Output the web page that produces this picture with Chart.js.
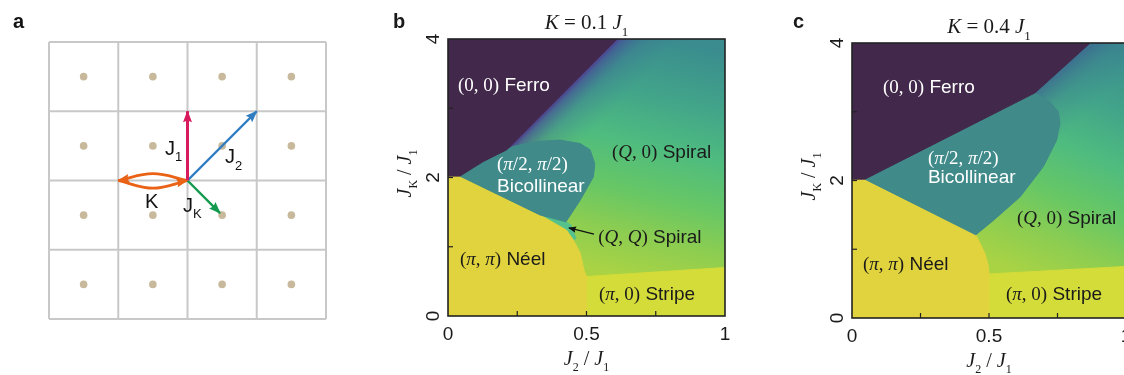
<!DOCTYPE html>
<html>
<head>
<meta charset="utf-8">
<script src="https://cdn.jsdelivr.net/npm/chart.js@4.4.1/dist/chart.umd.min.js"></script>
<style>
  html, body { margin: 0; padding: 0; background: #fff; width: 1124px; height: 375px; overflow: hidden; }
  canvas { position: absolute; top: 0; }
</style>
</head>
<body>
<canvas id="panelA" width="380" height="375" style="left:0"></canvas>
<canvas id="panelB" width="370" height="375" style="left:380px"></canvas>
<canvas id="panelC" width="350" height="375" style="left:780px"></canvas>
<script>
// ---- lattice (panel a), in cell units ----
const gridLines = [0, 1, 2, 3, 4];
const sites = [0.5, 1.5, 2.5, 3.5];
const bondJ1 = [[2, 2], [2, 3]];
const bondJ2 = [[2, 2], [3, 3]];
const bondJK = [[2, 2], [2.47, 1.53]];
const ringUpper = [[2, 2], [1.5, 2.1], [1, 2]];
const ringLower = [[1, 2], [1.5, 1.89], [2, 2]];

// ---- phase diagrams, x = J2/J1, y = JK/J1 ----
const xTicks = [0, 0.5, 1];
const yTicks = [0, 2, 4];
const xMinor = [0.25, 0.5, 0.75];
const yMinor = [1, 2, 3];
const fullArea = [[0, 0], [1, 0], [1, 4], [0, 4]];

// K = 0.1 J1
const ferroB = [[0, 4], [0.61, 4], [0.212, 2.40], [0.127, 2.23], [0.043, 2.02], [0, 2.02]];
const bicolB = [[0.043, 2.02], [0.127, 2.23], [0.212, 2.40], [0.236, 2.45], [0.32, 2.52], [0.404, 2.54],
  [0.477, 2.49], [0.513, 2.40], [0.53, 2.2], [0.525, 2.01], [0.477, 1.67], [0.426, 1.36], [0.332, 1.46]];
const qqB = [[0.332, 1.46], [0.426, 1.36], [0.445, 1.31], [0.462, 1.12], [0.452, 1.10], [0.428, 1.24]];
const neelB = [[0, 0], [0.5, 0], [0.5, 0.57], [0.491, 0.66], [0.477, 0.91], [0.452, 1.10], [0.428, 1.24],
  [0.332, 1.46], [0.043, 2.02], [0, 2.02]];
const stripeB = [[0.5, 0], [1, 0], [1, 0.70], [0.5, 0.57]];
const qqArrow = [[0.527, 1.184], [0.437, 1.271]];

// K = 0.4 J1
const ferroC = [[0, 4], [0.869, 4], [0.668, 3.275], [0.047, 2.02], [0, 2.02]];
const bicolC = [[0.047, 2.02], [0.668, 3.275], [0.723, 3.14], [0.753, 3.0], [0.759, 2.83], [0.747, 2.59],
  [0.698, 2.2], [0.613, 1.76], [0.516, 1.42], [0.452, 1.21]];
const neelC = [[0, 0], [0.5, 0], [0.5, 0.64], [0.498, 0.75], [0.485, 0.94], [0.452, 1.21], [0.047, 2.02], [0, 2.02]];
const stripeC = [[0.5, 0], [1, 0], [1, 0.75], [0.5, 0.64]];

const SERIF = '"Liberation Serif", "Times New Roman", serif';
const SANS = '"Liberation Sans", Arial, Helvetica, sans-serif';

const spiralStops = [[0, '#3a8c8e'], [0.25, '#42a589'], [0.45, '#4fbc7f'], [0.65, '#67c765'], [0.82, '#8ccd51'], [1, '#aad344']];

function fontFor(style, size) {
  if (style === 'serif') return `${size}px ${SERIF}`;
  if (style === 'iserif') return `italic ${size}px ${SERIF}`;
  if (style === 'sans') return `${size}px ${SANS}`;
  if (style === 'sub') return `${Math.round(size * 0.62)}px ${SERIF}`;
  if (style === 'subsans') return `${Math.round(size * 0.65)}px ${SANS}`;
  if (style === 'bold') return `bold ${size}px ${SANS}`;
  return `${size}px ${SANS}`;
}

function drawParts(ctx, x, y, parts, size, align) {
  let w = 0;
  parts.forEach(([t, s]) => { ctx.font = fontFor(s, size); w += ctx.measureText(t).width; });
  let cx = align === 'center' ? x - w / 2 : x;
  ctx.textAlign = 'left';
  ctx.textBaseline = 'alphabetic';
  parts.forEach(([t, s]) => {
    ctx.font = fontFor(s, size);
    ctx.fillText(t, cx, y + (s.startsWith('sub') ? size * 0.32 : 0));
    cx += ctx.measureText(t).width;
  });
}

const pts = arr => arr.map(([x, y]) => ({ x, y }));
const ring = arr => pts(arr.concat([arr[0]]));

function linGrad(chart, p0, p1, stops) {
  const { ctx, scales: { x, y } } = chart;
  const g = ctx.createLinearGradient(x.getPixelForValue(p0[0]), y.getPixelForValue(p0[1]),
    x.getPixelForValue(p1[0]), y.getPixelForValue(p1[1]));
  stops.forEach(([o, c]) => g.addColorStop(o, c));
  return g;
}

function poly(points, color, order) {
  return { data: ring(points), fill: 'shape', backgroundColor: color, borderColor: color, borderWidth: 1,
    pointRadius: 0, tension: 0, order };
}

function gradPoly(points, p0, p1, stops, order) {
  return { data: ring(points), fill: 'shape', borderWidth: 0, borderColor: 'transparent', pointRadius: 0, tension: 0, order,
    backgroundColor: c => c.chart.chartArea ? linGrad(c.chart, p0, p1, stops) : 'transparent' };
}

function bond(points, color, width, head, tension) {
  return { data: pts(points), borderColor: color, borderWidth: width, pointRadius: 0, fill: false,
    tension: tension || 0, head, clip: false, order: 0 };
}

// arrow heads at the last point of any dataset carrying `head: [length, halfWidth]`
const arrowHeads = {
  id: 'arrowHeads',
  afterDatasetsDraw(chart) {
    const ctx = chart.ctx;
    chart.data.datasets.forEach((ds, i) => {
      if (!ds.head) return;
      const els = chart.getDatasetMeta(i).data;
      const tip = els[els.length - 1];
      let fx = els[els.length - 2].x, fy = els[els.length - 2].y;
      if (tip.cp1x !== undefined && Math.hypot(tip.cp1x - tip.x, tip.cp1y - tip.y) > 1) { fx = tip.cp1x; fy = tip.cp1y; }
      const ang = Math.atan2(tip.y - fy, tip.x - fx);
      const [len, half] = ds.head;
      ctx.save();
      ctx.fillStyle = ds.borderColor;
      ctx.translate(tip.x, tip.y);
      ctx.rotate(ang);
      ctx.beginPath();
      ctx.moveTo(1, 0);
      ctx.lineTo(-len, half);
      ctx.lineTo(-len * 0.85, 0);
      ctx.lineTo(-len, -half);
      ctx.closePath();
      ctx.fill();
      ctx.restore();
    });
  }
};

// text of panel a
const latticeText = {
  id: 'latticeText',
  afterDatasetsDraw(chart, args, o) {
    const { ctx, scales: { x, y } } = chart;
    ctx.save();
    ctx.fillStyle = '#111';
    drawParts(ctx, 13, 28, [['a', 'bold']], 20);
    o.labels.forEach(l => drawParts(ctx, x.getPixelForValue(l.at[0]), y.getPixelForValue(l.at[1]), l.parts, 20));
    ctx.restore();
  }
};

// frame, ticks, titles and region names of the phase diagrams
const phaseFrame = {
  id: 'phaseFrame',
  afterDatasetsDraw(chart, args, o) {
    const { ctx, chartArea: a, scales: { x, y } } = chart;
    ctx.save();
    ctx.strokeStyle = '#222';
    ctx.lineWidth = 1.2;
    xMinor.forEach(v => { const p = x.getPixelForValue(v); ctx.beginPath(); ctx.moveTo(p, a.bottom); ctx.lineTo(p, a.bottom - 5); ctx.stroke(); });
    yMinor.forEach(v => { const p = y.getPixelForValue(v); ctx.beginPath(); ctx.moveTo(a.left, p); ctx.lineTo(a.left + 5, p); ctx.stroke(); });
    ctx.lineWidth = 1.6;
    ctx.strokeRect(a.left, a.top, a.right - a.left, a.bottom - a.top);

    ctx.fillStyle = '#1a1a1a';
    ctx.font = `19px ${SANS}`;
    ctx.textAlign = 'center';
    ctx.textBaseline = 'alphabetic';
    xTicks.forEach(v => ctx.fillText(String(v), x.getPixelForValue(v), a.bottom + 24));
    yTicks.forEach(v => {
      ctx.save();
      ctx.translate(a.left - 9, y.getPixelForValue(v));
      ctx.rotate(-Math.PI / 2);
      ctx.textAlign = 'center';
      ctx.fillText(String(v), 0, 0);
      ctx.restore();
    });

    const cx = (a.left + a.right) / 2;
    drawParts(ctx, cx, a.top - 10, o.title, 21, 'center');
    drawParts(ctx, cx, a.bottom + 49, [['J', 'iserif'], ['2', 'sub'], [' / ', 'serif'], ['J', 'iserif'], ['1', 'sub']], 20, 'center');
    ctx.save();
    ctx.translate(a.left - 37, (a.top + a.bottom) / 2 - 4);
    ctx.rotate(-Math.PI / 2);
    drawParts(ctx, 0, 0, [['J', 'iserif'], ['K', 'sub'], [' / ', 'serif'], ['J', 'iserif'], ['1', 'sub']], 20, 'center');
    ctx.restore();
    drawParts(ctx, 13, 28, [[o.panel, 'bold']], 20);

    o.labels.forEach(l => {
      ctx.fillStyle = l.color;
      drawParts(ctx, x.getPixelForValue(l.at[0]), y.getPixelForValue(l.at[1]), l.parts, 19);
    });
    ctx.restore();
  }
};

function baseOptions(pad, xmax, ymax, pluginOpts) {
  return {
    responsive: false, animation: false, events: [],
    layout: { padding: pad },
    scales: {
      x: { type: 'linear', min: 0, max: xmax, display: false },
      y: { type: 'linear', min: 0, max: ymax, display: false }
    },
    plugins: Object.assign({ legend: { display: false }, tooltip: { enabled: false } }, pluginOpts)
  };
}

// ---------- panel a ----------
const latticeSets = [];
gridLines.forEach(g => {
  latticeSets.push(bond([[g, 0], [g, 4]], '#c8c8c8', 2));
  latticeSets.push(bond([[0, g], [4, g]], '#c8c8c8', 2));
});
latticeSets.forEach(d => d.order = 5);
const sitePts = [];
sites.forEach(sx => sites.forEach(sy => sitePts.push([sx, sy])));
latticeSets.push({ data: pts(sitePts), showLine: false, pointRadius: 3.8, pointBackgroundColor: '#c9b99c', pointBorderWidth: 0, order: 4, clip: false });
latticeSets.push(bond(bondJ1, '#d81b5c', 3, [11, 4.5]));
latticeSets.push(bond(bondJ2, '#2f7cc1', 2.4, [11, 4.5]));
latticeSets.push(bond(bondJK, '#139a4e', 2.4, [11, 4.5]));
latticeSets.push(bond(ringUpper, '#ea6216', 2.8, [11, 4.5], 0.4));
latticeSets.push(bond(ringLower, '#ea6216', 2.8, [11, 4.5], 0.4));

new Chart(document.getElementById('panelA'), {
  type: 'line',
  data: { datasets: latticeSets },
  options: baseOptions({ left: 49, right: 54, top: 42, bottom: 56 }, 4, 4, {
    latticeText: {
      labels: [
        { at: [1.675, 2.37], parts: [['J', 'sans'], ['1', 'subsans']] },
        { at: [2.54, 2.25], parts: [['J', 'sans'], ['2', 'subsans']] },
        { at: [1.386, 1.60], parts: [['K', 'sans']] },
        { at: [1.935, 1.545], parts: [['J', 'sans'], ['K', 'subsans']] }
      ]
    }
  }),
  plugins: [arrowHeads, latticeText]
});

// ---------- panel b ----------
new Chart(document.getElementById('panelB'), {
  type: 'line',
  data: {
    datasets: [
      gradPoly(fullArea, [0.8, 4], [0.6, 0.6], spiralStops, 9),
      gradPoly(fullArea, [0.41, 3.2], [0.615, 2.39],
        [[0, 'rgba(80,52,140,0.95)'], [0.06, 'rgba(70,78,150,0.75)'], [0.25, 'rgba(60,105,150,0.35)'], [0.6, 'rgba(60,130,150,0)'], [1, 'rgba(60,130,150,0)']], 8),
      poly(qqB, '#55c28b', 3),
      poly(bicolB, '#408a8a', 2),
      poly(neelB, '#e1d33d', 2),
      poly(stripeB, '#d3dc39', 2),
      poly(ferroB, '#42294b', 1),
      bond(qqArrow, '#111', 1.3, [7, 3.2])
    ]
  },
  options: baseOptions({ left: 68, right: 25, top: 39, bottom: 59 }, 1, 4, {
    phaseFrame: {
      panel: 'b',
      title: [['K', 'iserif'], [' = 0.1 ', 'serif'], ['J', 'iserif'], ['1', 'sub']],
      labels: [
        { at: [0.036, 3.25], color: '#fff', parts: [['(0, 0)', 'serif'], [' Ferro', 'sans']] },
        { at: [0.177, 2.11], color: '#fff', parts: [['(', 'serif'], ['π', 'iserif'], ['/2, ', 'serif'], ['π', 'iserif'], ['/2)', 'serif']] },
        { at: [0.177, 1.79], color: '#fff', parts: [['Bicollinear', 'sans']] },
        { at: [0.592, 2.28], color: '#1a1a1a', parts: [['(', 'serif'], ['Q', 'iserif'], [', 0)', 'serif'], [' Spiral', 'sans']] },
        { at: [0.542, 1.054], color: '#1a1a1a', parts: [['(', 'serif'], ['Q', 'iserif'], [', ', 'serif'], ['Q', 'iserif'], [')', 'serif'], [' Spiral', 'sans']] },
        { at: [0.043, 0.736], color: '#1a1a1a', parts: [['(', 'serif'], ['π', 'iserif'], [', ', 'serif'], ['π', 'iserif'], [')', 'serif'], [' Néel', 'sans']] },
        { at: [0.545, 0.231], color: '#1a1a1a', parts: [['(', 'serif'], ['π', 'iserif'], [', 0)', 'serif'], [' Stripe', 'sans']] }
      ]
    }
  }),
  plugins: [phaseFrame, arrowHeads]
});

// ---------- panel c ----------
new Chart(document.getElementById('panelC'), {
  type: 'line',
  data: {
    datasets: [
      gradPoly(fullArea, [0.95, 4], [0.6, 0.65], spiralStops, 9),
      gradPoly(fullArea, [0.77, 3.64], [0.893, 3.10],
        [[0, 'rgba(60,95,145,0.7)'], [0.4, 'rgba(60,115,145,0.3)'], [1, 'rgba(60,130,150,0)']], 8),
      poly(bicolC, '#408a8a', 2),
      poly(neelC, '#e1d33d', 2),
      poly(stripeC, '#d3dc39', 2),
      poly(ferroC, '#42294b', 1)
    ]
  },
  options: baseOptions({ left: 72, right: 4, top: 43, bottom: 57 }, 1, 4, {
    phaseFrame: {
      panel: 'c',
      title: [['K', 'iserif'], [' = 0.4 ', 'serif'], ['J', 'iserif'], ['1', 'sub']],
      labels: [
        { at: [0.113, 3.27], color: '#fff', parts: [['(0, 0)', 'serif'], [' Ferro', 'sans']] },
        { at: [0.277, 2.24], color: '#fff', parts: [['(', 'serif'], ['π', 'iserif'], ['/2, ', 'serif'], ['π', 'iserif'], ['/2)', 'serif']] },
        { at: [0.277, 1.96], color: '#fff', parts: [['Bicollinear', 'sans']] },
        { at: [0.602, 1.37], color: '#1a1a1a', parts: [['(', 'serif'], ['Q', 'iserif'], [', 0)', 'serif'], [' Spiral', 'sans']] },
        { at: [0.04, 0.70], color: '#1a1a1a', parts: [['(', 'serif'], ['π', 'iserif'], [', ', 'serif'], ['π', 'iserif'], [')', 'serif'], [' Néel', 'sans']] },
        { at: [0.562, 0.26], color: '#1a1a1a', parts: [['(', 'serif'], ['π', 'iserif'], [', 0)', 'serif'], [' Stripe', 'sans']] }
      ]
    }
  }),
  plugins: [phaseFrame]
});
</script>
</body>
</html>
